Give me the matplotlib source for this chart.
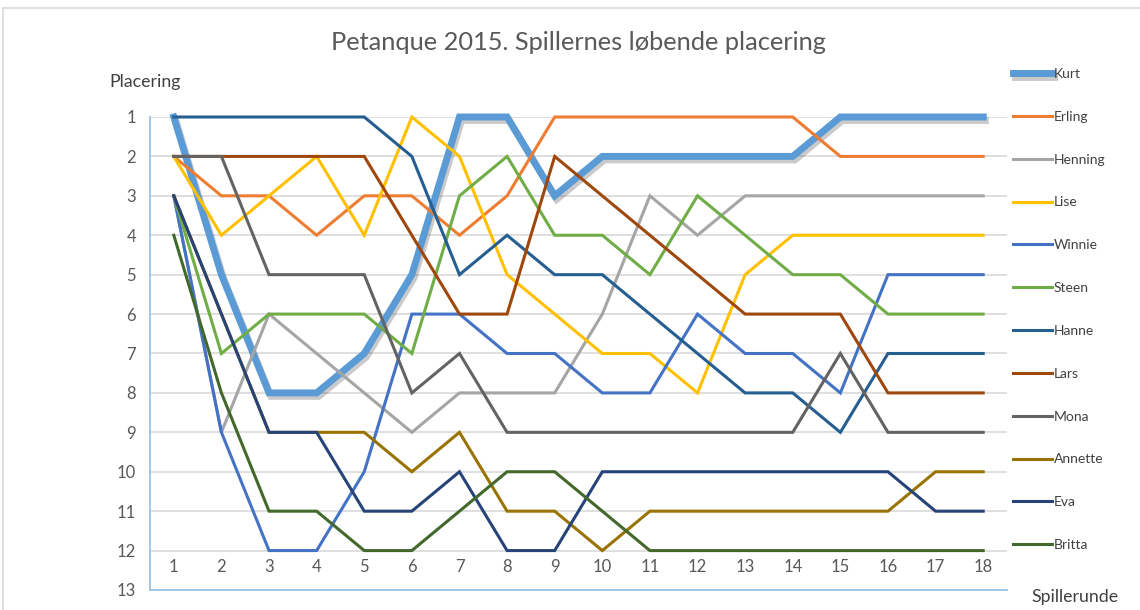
import matplotlib.pyplot as plt
import matplotlib.patheffects as pe
from matplotlib.patches import Rectangle

# Runder og placeringer for hver spiller
runder = list(range(1, 19))

spillere = ["Kurt", "Erling", "Henning", "Lise", "Winnie", "Steen",
            "Hanne", "Lars", "Mona", "Annette", "Eva", "Britta"]

kurt = [1, 5, 8, 8, 7, 5, 1, 1, 3, 2, 2, 2, 2, 2, 1, 1, 1, 1]
erling = [2, 3, 3, 4, 3, 3, 4, 3, 1, 1, 1, 1, 1, 1, 2, 2, 2, 2]
henning = [3, 9, 6, 7, 8, 9, 8, 8, 8, 6, 3, 4, 3, 3, 3, 3, 3, 3]
lise = [2, 4, 3, 2, 4, 1, 2, 5, 6, 7, 7, 8, 5, 4, 4, 4, 4, 4]
winnie = [3, 9, 12, 12, 10, 6, 6, 7, 7, 8, 8, 6, 7, 7, 8, 5, 5, 5]
steen = [3, 7, 6, 6, 6, 7, 3, 2, 4, 4, 5, 3, 4, 5, 5, 6, 6, 6]
hanne = [1, 1, 1, 1, 1, 2, 5, 4, 5, 5, 6, 7, 8, 8, 9, 7, 7, 7]
lars = [2, 2, 2, 2, 2, 4, 6, 6, 2, 3, 4, 5, 6, 6, 6, 8, 8, 8]
mona = [2, 2, 5, 5, 5, 8, 7, 9, 9, 9, 9, 9, 9, 9, 7, 9, 9, 9]
annette = [3, 6, 9, 9, 9, 10, 9, 11, 11, 12, 11, 11, 11, 11, 11, 11, 10, 10]
eva = [3, 6, 9, 9, 11, 11, 10, 12, 12, 10, 10, 10, 10, 10, 10, 10, 11, 11]
britta = [4, 8, 11, 11, 12, 12, 11, 10, 10, 11, 12, 12, 12, 12, 12, 12, 12, 12]

placeringer = [kurt, erling, henning, lise, winnie, steen,
               hanne, lars, mona, annette, eva, britta]

farver = ["#5B9BD5", "#ED7D31", "#A5A5A5", "#FFC000", "#4472C4", "#70AD47",
          "#255E91", "#9E480E", "#636363", "#997300", "#264478", "#43682B"]

plt.rcParams['font.family'] = ['Lato', 'DejaVu Sans']

fig = plt.figure(figsize=(11.4, 6.1), dpi=100)
ax = fig.add_axes([150 / 1140, 20 / 610, 857 / 1140, 473 / 610])

# Ramme om hele diagrammet
fig.patches.append(Rectangle((3 / 1140, -0.1), 1.2, 1.1 - 8 / 610,
                             transform=fig.transFigure, fill=False,
                             edgecolor="#D9D9D9", lw=1.2))

for navn, pl, farve in zip(spillere, placeringer, farver):
    if navn == "Kurt":
        ax.plot(runder, pl, color=farve, lw=5, label=navn, clip_on=False,
                solid_joinstyle="miter", zorder=3,
                path_effects=[pe.SimpleLineShadow(offset=(1.5, -2.5), alpha=0.3,
                                                  shadow_color="#505050"),
                              pe.Normal()])
    else:
        ax.plot(runder, pl, color=farve, lw=2.2, label=navn, clip_on=False,
                solid_joinstyle="miter", zorder=3)

ax.set_xlim(0.5, 18.5)
ax.set_ylim(13, 1)
ax.set_yticks(range(1, 14))
ax.set_xticks(runder)
ax.grid(axis="y", color="#D9D9D9", lw=1.2)
ax.set_axisbelow(True)

for s in ["top", "right"]:
    ax.spines[s].set_visible(False)
ax.spines["left"].set_color("#9DC3E6")
ax.spines["bottom"].set_color("#9DC3E6")
ax.spines["left"].set_linewidth(1.3)
ax.spines["bottom"].set_linewidth(1.3)

ax.tick_params(axis="y", length=0, pad=10, labelsize=12, labelcolor="#595959")
ax.tick_params(axis="x", length=0, pad=-22, labelsize=12, labelcolor="#595959")

fig.text(578 / 1140, 1 - 43 / 610, "Petanque 2015. Spillernes løbende placering",
         ha="center", va="center", fontsize=18.3, color="#595959")
fig.text(145 / 1140, 1 - 82 / 610, "Placering", ha="center", va="center",
         fontsize=12.8, color="#404040")
fig.text(1075 / 1140, 1 - 597 / 610, "Spillerunde", ha="center", va="center",
         fontsize=12.8, color="#404040")

fig.legend(loc="upper left", bbox_to_anchor=(1013 / 1140, 1 - 68 / 610),
           frameon=False, fontsize=10, handlelength=2.8, handletextpad=0.15,
           labelspacing=2.22, borderpad=0, borderaxespad=0, labelcolor="#404040")

plt.savefig("out.png", dpi=100)
